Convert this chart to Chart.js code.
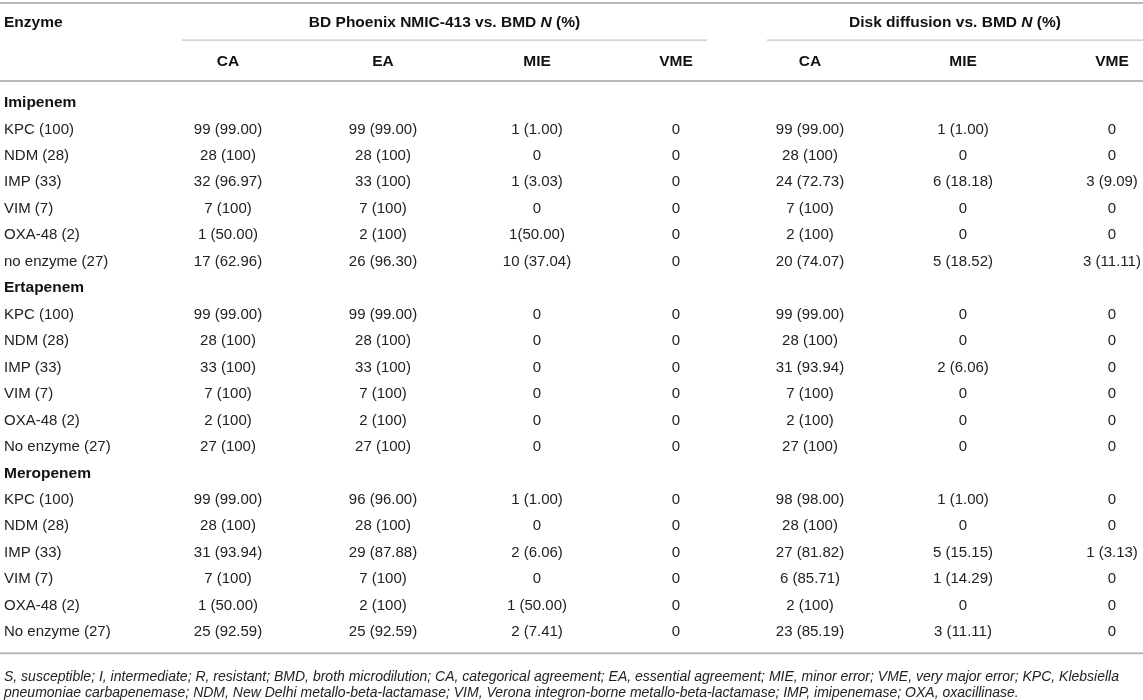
<!DOCTYPE html>
<html>
<head>
<meta charset="utf-8">
<script src="https://cdn.jsdelivr.net/npm/chart.js@4"></script>
<style>
  html, body { margin: 0; padding: 0; background: #fff; }
  #wrap { width: 1143px; height: 700px; position: relative; }
</style>
</head>
<body>
<div id="wrap"><canvas id="tabela"></canvas></div>
<script>
// ---- data ----
const sections = ["Imipenem", "Ertapenem", "Meropenem"];
const enzymes = [
  ["KPC (100)", "NDM (28)", "IMP (33)", "VIM (7)", "OXA-48 (2)", "no enzyme (27)"],
  ["KPC (100)", "NDM (28)", "IMP (33)", "VIM (7)", "OXA-48 (2)", "No enzyme (27)"],
  ["KPC (100)", "NDM (28)", "IMP (33)", "VIM (7)", "OXA-48 (2)", "No enzyme (27)"]
];
const groups = ["BD Phoenix NMIC-413 vs. BMD", "Disk diffusion vs. BMD"];
const columns = ["CA", "EA", "MIE", "VME", "CA", "MIE", "VME"];

const bdCA = ["99 (99.00)", "28 (100)", "32 (96.97)", "7 (100)", "1 (50.00)", "17 (62.96)",
              "99 (99.00)", "28 (100)", "33 (100)", "7 (100)", "2 (100)", "27 (100)",
              "99 (99.00)", "28 (100)", "31 (93.94)", "7 (100)", "1 (50.00)", "25 (92.59)"];
const bdEA = ["99 (99.00)", "28 (100)", "33 (100)", "7 (100)", "2 (100)", "26 (96.30)",
              "99 (99.00)", "28 (100)", "33 (100)", "7 (100)", "2 (100)", "27 (100)",
              "96 (96.00)", "28 (100)", "29 (87.88)", "7 (100)", "2 (100)", "25 (92.59)"];
const bdMIE = ["1 (1.00)", "0", "1 (3.03)", "0", "1(50.00)", "10 (37.04)",
               "0", "0", "0", "0", "0", "0",
               "1 (1.00)", "0", "2 (6.06)", "0", "1 (50.00)", "2 (7.41)"];
const bdVME = ["0", "0", "0", "0", "0", "0",
               "0", "0", "0", "0", "0", "0",
               "0", "0", "0", "0", "0", "0"];
const ddCA = ["99 (99.00)", "28 (100)", "24 (72.73)", "7 (100)", "2 (100)", "20 (74.07)",
              "99 (99.00)", "28 (100)", "31 (93.94)", "7 (100)", "2 (100)", "27 (100)",
              "98 (98.00)", "28 (100)", "27 (81.82)", "6 (85.71)", "2 (100)", "23 (85.19)"];
const ddMIE = ["1 (1.00)", "0", "6 (18.18)", "0", "0", "5 (18.52)",
               "0", "0", "2 (6.06)", "0", "0", "0",
               "1 (1.00)", "0", "5 (15.15)", "1 (14.29)", "0", "3 (11.11)"];
const ddVME = ["0", "0", "3 (9.09)", "0", "0", "3 (11.11)",
               "0", "0", "0", "0", "0", "0",
               "0", "0", "1 (3.13)", "0", "0", "0"];
const seriesCols = [bdCA, bdEA, bdMIE, bdVME, ddCA, ddMIE, ddVME];

const footnote = [
  "S, susceptible; I, intermediate; R, resistant; BMD, broth microdilution; CA, categorical agreement; EA, essential agreement; MIE, minor error; VME, very major error; KPC, Klebsiella",
  "pneumoniae carbapenemase; NDM, New Delhi metallo-beta-lactamase; VIM, Verona integron-borne metallo-beta-lactamase; IMP, imipenemase; OXA, oxacillinase."
];

// ---- layout (x in px units of the x scale, y in row units of the y scale) ----
const colX = [4, 228, 383, 537, 676, 810, 963, 1112];
const groupSpan = [[182, 707], [767, 1143]];
const rowY = { top: -3.78, group: -3.02, groupLine: -2.38, sub: -1.55, rule: -0.83, bottom: 20.8, foot1: 21.72, foot2: 22.3 };
const FONT = "'Liberation Sans', Arial, Helvetica, sans-serif";
const HEAD = "bold 15.5px " + FONT;
const CELL = "15px " + FONT;

// enzyme column: section titles + enzyme names
const firstCol = [];
sections.forEach((s, si) => {
  firstCol.push({ x: colX[0], y: si * 7, t: s, bold: true });
  enzymes[si].forEach((e, ri) => firstCol.push({ x: colX[0], y: si * 7 + 1 + ri, t: e, bold: false }));
});

const datasets = [{ data: firstCol, align: "left" }];
seriesCols.forEach((col, ci) => {
  datasets.push({
    align: "center",
    data: col.map((v, k) => ({ x: colX[ci + 1], y: Math.floor(k / 6) * 7 + 1 + (k % 6), t: v }))
  });
});

function hline(ctx, x0, x1, y, w, c) {
  ctx.save();
  ctx.strokeStyle = c;
  ctx.lineWidth = w;
  ctx.beginPath();
  ctx.moveTo(x0, y);
  ctx.lineTo(x1, y);
  ctx.stroke();
  ctx.restore();
}

const tablePlugin = {
  id: "tablePlugin",
  afterDatasetsDraw(chart) {
    const ctx = chart.ctx;
    const xs = chart.scales.x, ys = chart.scales.y;
    const W = chart.width;
    const Y = v => ys.getPixelForValue(v);

    // rules
    hline(ctx, 0, W, Y(rowY.top), 2, "#b8b8b8");
    hline(ctx, 0, W, Y(rowY.rule), 2, "#b8b8b8");
    hline(ctx, 0, W, Y(rowY.bottom), 2, "#b8b8b8");
    groupSpan.forEach(g => hline(ctx, xs.getPixelForValue(g[0]), xs.getPixelForValue(g[1]), Y(rowY.groupLine), 1.2, "#c4c4c4"));

    ctx.save();
    ctx.textBaseline = "middle";
    ctx.fillStyle = "#111";

    // header row 1
    ctx.font = HEAD;
    ctx.textAlign = "left";
    ctx.fillText("Enzyme", xs.getPixelForValue(colX[0]), Y(rowY.group));
    groups.forEach((g, gi) => {
      const a = g + " ", b = "N", c = " (%)";
      ctx.font = HEAD;
      const wa = ctx.measureText(a).width, wc = ctx.measureText(c).width;
      ctx.font = "italic " + HEAD;
      const wb = ctx.measureText(b).width;
      const mid = (xs.getPixelForValue(groupSpan[gi][0]) + xs.getPixelForValue(groupSpan[gi][1])) / 2;
      const x = mid - (wa + wb + wc) / 2;
      ctx.font = HEAD;
      ctx.fillText(a, x, Y(rowY.group));
      ctx.font = "italic " + HEAD;
      ctx.fillText(b, x + wa, Y(rowY.group));
      ctx.font = HEAD;
      ctx.fillText(c, x + wa + wb, Y(rowY.group));
    });

    // header row 2
    ctx.font = HEAD;
    ctx.textAlign = "center";
    columns.forEach((c, ci) => ctx.fillText(c, xs.getPixelForValue(colX[ci + 1]), Y(rowY.sub)));

    // cells, placed by the dataset points
    chart.data.datasets.forEach((ds, di) => {
      const meta = chart.getDatasetMeta(di);
      meta.data.forEach((pt, k) => {
        const d = ds.data[k];
        ctx.font = d.bold ? HEAD : CELL;
        ctx.fillStyle = d.bold ? "#111" : "#222";
        ctx.textAlign = ds.align;
        ctx.fillText(d.t, pt.x, pt.y);
      });
    });

    // footnote
    ctx.font = "italic 14px " + FONT;
    ctx.fillStyle = "#222";
    ctx.textAlign = "left";
    ctx.fillText(footnote[0], xs.getPixelForValue(colX[0]), Y(rowY.foot1));
    ctx.fillText(footnote[1], xs.getPixelForValue(colX[0]), Y(rowY.foot2));
    ctx.restore();
  }
};

new Chart(document.getElementById("tabela"), {
  type: "scatter",
  data: { datasets: datasets },
  options: {
    responsive: true,
    maintainAspectRatio: false,
    animation: false,
    layout: { padding: 0 },
    elements: { point: { radius: 0, hoverRadius: 0 } },
    scales: {
      x: { type: "linear", display: false, min: 0, max: 1143 },
      y: { type: "linear", display: false, reverse: true, min: -3.894, max: 22.571 }
    },
    plugins: {
      legend: { display: false },
      tooltip: { enabled: false }
    },
    events: []
  },
  plugins: [tablePlugin]
});
</script>
</body>
</html>
